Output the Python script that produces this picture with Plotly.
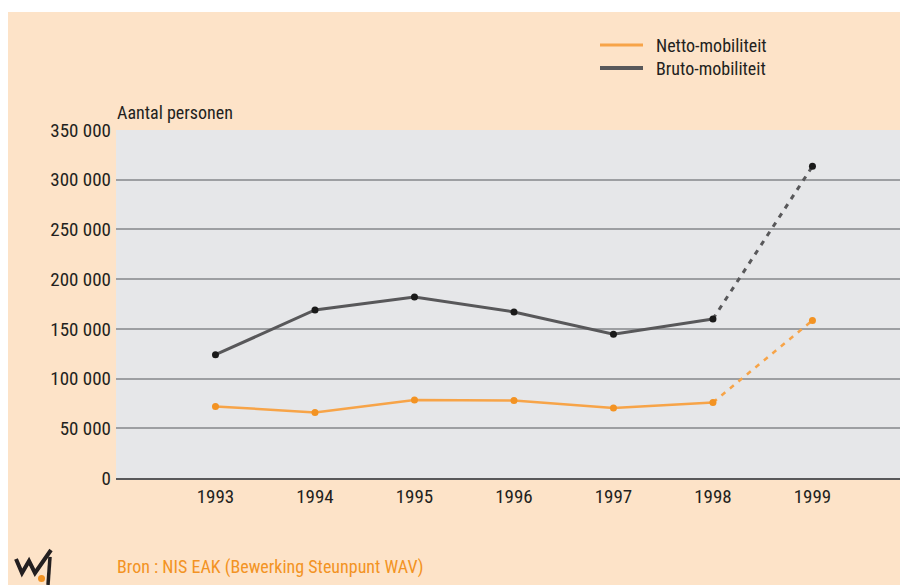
import plotly.graph_objects as go

years = [1993, 1994, 1995, 1996, 1997, 1998, 1999]
netto = [72000, 66000, 78500, 78000, 70500, 76000, 158500]
bruto = [124000, 169000, 182000, 167000, 144500, 160000, 313500]
ytick_vals = [0, 50000, 100000, 150000, 200000, 250000, 300000, 350000]
ytick_text = ["0", "50 000", "100 000", "150 000", "200 000", "250 000", "300 000", "350 000"]

FONT = "Roboto Condensed, Liberation Sans Narrow, Arial Narrow, Liberation Sans, sans-serif"
PEACH = "#FDE3C8"
ORANGE = "#F7A448"
ORANGE_M = "#F39323"
GREY = "#58585A"
BLACK = "#1A1A1A"
TXT = "#231F20"

W, H = 900, 585
L, R, T, B = 116, 0, 130, 585 - 478
pw, ph = W - L - R, H - T - B

def px(x):  # window pixel -> paper x
    return (x - L) / pw

def py(y):  # window pixel -> paper y
    return (H - B - y) / ph

fig = go.Figure()

fig.add_trace(go.Scatter(x=years[:6], y=bruto[:6], mode="lines", line=dict(color=GREY, width=3),
                         showlegend=False, hoverinfo="skip"))
fig.add_trace(go.Scatter(x=years[:6], y=netto[:6], mode="lines", line=dict(color=ORANGE, width=2.5),
                         showlegend=False, hoverinfo="skip"))
fig.add_trace(go.Scatter(x=years[5:], y=bruto[5:], mode="lines",
                         line=dict(color=GREY, width=3, dash="5px,6px"),
                         showlegend=False, hoverinfo="skip"))
fig.add_trace(go.Scatter(x=years[5:], y=netto[5:], mode="lines",
                         line=dict(color=ORANGE, width=2.5, dash="5px,6px"),
                         showlegend=False, hoverinfo="skip"))
fig.add_trace(go.Scatter(x=years, y=bruto, mode="markers", marker=dict(color=BLACK, size=7),
                         name="Bruto-mobiliteit", showlegend=False))
fig.add_trace(go.Scatter(x=years, y=netto, mode="markers", marker=dict(color=ORANGE_M, size=7),
                         name="Netto-mobiliteit", showlegend=False))

def path(pts):
    return "M " + " L ".join(f"{px(a):.5f},{py(b):.5f}" for a, b in pts)

shapes = [
    # white page strips (top and left)
    dict(type="rect", xref="paper", yref="paper", x0=px(0), x1=px(900), y0=py(0), y1=py(12),
         fillcolor="white", line=dict(width=0), layer="above"),
    dict(type="rect", xref="paper", yref="paper", x0=px(0), x1=px(8), y0=py(0), y1=py(585),
         fillcolor="white", line=dict(width=0), layer="above"),
    # legend samples
    dict(type="line", xref="paper", yref="paper", x0=px(600), x1=px(643), y0=py(45), y1=py(45),
         line=dict(color=ORANGE, width=3)),
    dict(type="line", xref="paper", yref="paper", x0=px(600), x1=px(643), y0=py(68), y1=py(68),
         line=dict(color=GREY, width=4)),
    # logo
    dict(type="path", xref="paper", yref="paper",
         path=path([(16, 559), (22, 573), (29, 561), (35, 573), (51, 550)]),
         line=dict(color=TXT, width=4)),
    dict(type="path", xref="paper", yref="paper",
         path=path([(50, 557), (48, 585)]),
         line=dict(color=TXT, width=3.5)),
    dict(type="circle", xref="paper", yref="paper", x0=px(38), x1=px(45), y0=py(582), y1=py(575),
         fillcolor=ORANGE_M, line=dict(width=0)),
]

annotations = [
    dict(text="Netto-mobiliteit", xref="paper", yref="paper", x=px(654), y=py(45), xanchor="left",
         yanchor="middle", showarrow=False, font=dict(size=18, color=TXT, family=FONT)),
    dict(text="Bruto-mobiliteit", xref="paper", yref="paper", x=px(654), y=py(68), xanchor="left",
         yanchor="middle", showarrow=False, font=dict(size=18, color=TXT, family=FONT)),
    dict(text="Aantal personen", xref="paper", yref="paper", x=px(115), y=py(112), xanchor="left",
         yanchor="middle", showarrow=False, font=dict(size=18, color=TXT, family=FONT)),
    dict(text="Bron : NIS EAK (Bewerking Steunpunt WAV)", xref="paper", yref="paper", x=px(115), y=py(567),
         xanchor="left", yanchor="middle", showarrow=False, font=dict(size=18, color=ORANGE_M, family=FONT)),
]

fig.update_layout(
    width=W, height=H,
    margin=dict(l=L, r=R, t=T, b=B, pad=0),
    paper_bgcolor=PEACH,
    plot_bgcolor="#E6E7E9",
    font=dict(family=FONT, size=19, color=TXT),
    shapes=shapes,
    annotations=annotations,
    showlegend=False,
)
fig.update_xaxes(range=[1992, 1999.88], tickvals=years, ticktext=[str(y) for y in years],
                 showgrid=False, zeroline=False, showline=True, linecolor=GREY, linewidth=2,
                 ticks="", tickfont=dict(size=19), fixedrange=True)
fig.update_yaxes(range=[0, 350000], tickvals=ytick_vals, ticktext=ytick_text,
                 showgrid=True, gridcolor="#9D9FA2", gridwidth=1.5, zeroline=False,
                 ticks="", ticklabelstandoff=4, tickfont=dict(size=19), fixedrange=True)

fig.write_html(
    "out.html",
    config={"displayModeBar": False},
    post_script=(
        "document.documentElement.style.margin='0';"
        "document.body.style.margin='0';"
        "document.body.style.overflow='hidden';"
    ),
)
